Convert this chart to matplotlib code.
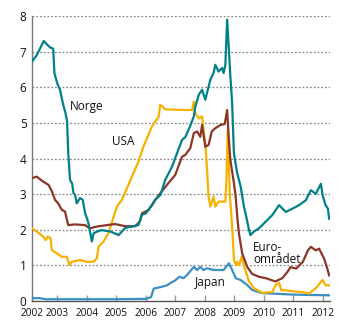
import matplotlib
matplotlib.use("Agg")
import matplotlib.pyplot as plt

plt.rcParams['font.family'] = ['Open Sans', 'DejaVu Sans']

# Norge
norge_x = [2002.14, 2002.3, 2002.45, 2002.54, 2002.65, 2002.75, 2002.86, 2002.9, 2003.0, 2003.09,
           2003.2, 2003.27, 2003.33, 2003.37, 2003.43, 2003.5, 2003.55, 2003.6, 2003.66, 2003.77,
           2003.86, 2003.94, 2004.0, 2004.05, 2004.12, 2004.17, 2004.23, 2004.35, 2004.5, 2004.65,
           2004.8, 2005.08, 2005.3, 2005.53, 2005.75, 2005.87, 2006.0, 2006.22, 2006.32, 2006.5,
           2006.66, 2006.89, 2007.06, 2007.23, 2007.34, 2007.5, 2007.63, 2007.68, 2007.8, 2007.91,
           2008.02, 2008.19, 2008.3, 2008.36, 2008.47, 2008.59, 2008.64, 2008.7, 2008.76, 2008.82,
           2008.87, 2008.93, 2008.99, 2009.1, 2009.22, 2009.33, 2009.4, 2009.5, 2009.55, 2009.67,
           2009.84, 2009.95, 2010.29, 2010.52, 2010.75, 2010.97, 2011.2, 2011.43, 2011.6, 2011.77,
           2011.94, 2012.0, 2012.1, 2012.18, 2012.22]
norge_y = [6.72, 6.9, 7.15, 7.3, 7.2, 7.12, 7.08, 6.4, 6.1, 5.93,
           5.5, 5.3, 5.05, 4.15, 3.4, 3.3, 3.02, 2.98, 2.74, 2.89,
           2.84, 2.47, 2.33, 2.2, 1.9, 1.67, 1.9, 1.95, 1.99, 1.97,
           1.95, 1.85, 2.05, 2.09, 2.13, 2.42, 2.46, 2.7, 2.84, 2.98,
           3.4, 3.77, 4.15, 4.52, 4.6, 4.9, 5.18, 5.46, 5.79, 5.93,
           5.65, 6.21, 6.4, 6.63, 6.44, 6.54, 6.4, 6.63, 7.9, 7.05,
           6.3, 5.56, 4.15, 3.59, 3.21, 2.65, 2.4, 2.0, 1.85, 1.95,
           2.04, 2.13, 2.41, 2.69, 2.5, 2.59, 2.69, 2.83, 3.11, 3.01,
           3.29, 2.97, 2.69, 2.59, 2.31]

# Euroområdet
euro_x = [2002.14, 2002.3, 2002.52, 2002.7, 2002.82, 2002.92, 2003.03, 2003.15, 2003.26, 2003.3,
          2003.37, 2003.6, 2003.94, 2004.1, 2004.34, 2004.68, 2004.96, 2005.3, 2005.64, 2005.8,
          2005.87, 2006.1, 2006.32, 2006.66, 2007.0, 2007.23, 2007.34, 2007.51, 2007.63, 2007.74,
          2007.85, 2007.91, 2008.02, 2008.13, 2008.24, 2008.36, 2008.53, 2008.68, 2008.76, 2008.82,
          2008.87, 2008.99, 2009.05, 2009.1, 2009.16, 2009.27, 2009.44, 2009.61, 2009.84, 2010.07,
          2010.4, 2010.63, 2010.8, 2010.91, 2011.1, 2011.33, 2011.5, 2011.6, 2011.77, 2011.88,
          2012.05, 2012.16, 2012.22]
euro_y = [3.45, 3.49, 3.35, 3.26, 3.07, 2.84, 2.74, 2.56, 2.51, 2.37,
          2.13, 2.15, 2.13, 2.04, 2.09, 2.13, 2.16, 2.1, 2.1, 2.23,
          2.46, 2.56, 2.84, 3.2, 3.54, 4.05, 4.1, 4.29, 4.71, 4.76,
          4.61, 4.94, 4.33, 4.38, 4.76, 4.85, 4.94, 4.97, 5.36, 4.52,
          3.96, 3.31, 2.93, 2.4, 1.9, 1.34, 0.96, 0.76, 0.68, 0.64,
          0.55, 0.64, 0.81, 0.95, 0.91, 1.1, 1.42, 1.52, 1.42, 1.47,
          1.19, 0.91, 0.72]

# USA
usa_x = [2002.14, 2002.3, 2002.52, 2002.6, 2002.68, 2002.77, 2002.81, 2002.98, 2003.15, 2003.32,
         2003.41, 2003.49, 2003.77, 2004.0, 2004.23, 2004.34, 2004.4, 2004.57, 2004.73, 2005.02,
         2005.19, 2005.53, 2005.75, 2005.92, 2006.21, 2006.44, 2006.49, 2006.66, 2007.34, 2007.57,
         2007.63, 2007.68, 2007.8, 2007.91, 2007.96, 2008.02, 2008.08, 2008.13, 2008.19, 2008.3,
         2008.36, 2008.47, 2008.7, 2008.74, 2008.78, 2008.85, 2008.93, 2008.99, 2009.07, 2009.1,
         2009.16, 2009.25, 2009.36, 2009.5, 2009.67, 2009.95, 2010.29, 2010.4, 2010.52, 2010.6,
         2010.76, 2011.0, 2011.31, 2011.54, 2011.77, 2012.0, 2012.1, 2012.22]
usa_y = [2.04, 1.95, 1.81, 1.71, 1.81, 1.76, 1.43, 1.34, 1.24, 1.24,
         1.01, 1.1, 1.15, 1.1, 1.1, 1.2, 1.53, 1.67, 1.9, 2.65,
         2.84, 3.49, 3.91, 4.33, 4.9, 5.18, 5.51, 5.38, 5.36, 5.36,
         5.6, 5.27, 5.13, 5.18, 4.8, 4.43, 3.68, 2.93, 2.65, 2.93,
         2.65, 2.79, 2.79, 3.49, 4.8, 3.0, 2.09, 1.15, 1.0, 1.1,
         1.0, 1.24, 0.91, 0.56, 0.36, 0.23, 0.25, 0.44, 0.51, 0.3,
         0.3, 0.27, 0.25, 0.21, 0.36, 0.59, 0.44, 0.44]

# Japan
japan_x = [2002.14, 2002.4, 2002.6, 2003.0, 2004.0, 2005.0, 2006.0, 2006.18, 2006.27, 2006.5,
           2006.72, 2006.89, 2007.0, 2007.14, 2007.28, 2007.4, 2007.63, 2007.74, 2007.85, 2007.96,
           2008.08, 2008.3, 2008.64, 2008.82, 2008.93, 2009.05, 2009.22, 2009.44, 2009.61, 2009.95,
           2010.5, 2010.97, 2011.5, 2012.22]
japan_y = [0.08, 0.08, 0.05, 0.05, 0.05, 0.05, 0.06, 0.11, 0.35, 0.39,
           0.44, 0.53, 0.58, 0.68, 0.64, 0.73, 0.96, 0.87, 0.96, 0.87,
           0.92, 0.87, 0.87, 1.06, 0.87, 0.64, 0.59, 0.45, 0.31, 0.22,
           0.2, 0.18, 0.17, 0.16]

year_ticks = [2003, 2004, 2005, 2006, 2007, 2008, 2009, 2010, 2011, 2012]
year_labels = ["2003", "2004", "2005", "2006", "2007", "2008", "2009", "2010", "2011", "2012"]
y_ticks = [0, 1, 2, 3, 4, 5, 6, 7, 8]

c_norge = "#00818A"
c_usa = "#F7B200"
c_euro = "#8C3627"
c_japan = "#3D8EC6"

fig = plt.figure(figsize=(3.5, 3.24), dpi=100)
ax = fig.add_axes([32/350, 1 - 301/324, (330 - 32)/350, (301 - 16)/324])

xmin, xmax = 2002.14, 2012.25
for yv in y_ticks[1:]:
    ax.plot([xmin, xmax], [yv, yv], color="#8a8a8a", lw=0.9, ls=(0, (1.5, 1.5)), zorder=1)

ax.plot(japan_x, japan_y, color=c_japan, lw=1.6, zorder=3)
ax.plot(usa_x, usa_y, color=c_usa, lw=1.6, zorder=4)
ax.plot(euro_x, euro_y, color=c_euro, lw=1.6, zorder=5)
ax.plot(norge_x, norge_y, color=c_norge, lw=1.6, zorder=6)

ax.set_xlim(xmin, xmax)
ax.set_ylim(0, 8)
for s in ["top", "right"]:
    ax.spines[s].set_visible(False)
ax.spines["left"].set_color("#777777")
ax.spines["bottom"].set_color("#555555")
ax.spines["left"].set_linewidth(1.0)
ax.spines["bottom"].set_linewidth(1.0)

ax.set_xticks([xmin] + year_ticks)
ax.set_xticklabels(["2002"] + year_labels)
ax.tick_params(axis="x", direction="in", length=4, width=1, color="#999999",
               labelsize=7.3, pad=5, labelcolor="#111111")
ax.set_yticks(y_ticks)
ax.set_yticklabels([str(v) for v in y_ticks])
ax.tick_params(axis="y", length=0, labelsize=8.5, pad=4, labelcolor="#111111")

fs = 8.5
ax.text(2003.43, 5.45, "Norge", fontsize=fs, va="center", ha="left", color="#111111")
ax.text(2004.86, 4.47, "USA", fontsize=fs, va="center", ha="left", color="#111111")
ax.text(2009.65, 1.33, "Euro-\nområdet", fontsize=fs, va="center", ha="left",
        color="#111111", linespacing=0.95)
ax.text(2007.68, 0.51, "Japan", fontsize=fs, va="center", ha="left", color="#111111")

fig.savefig("out.png", dpi=100)
